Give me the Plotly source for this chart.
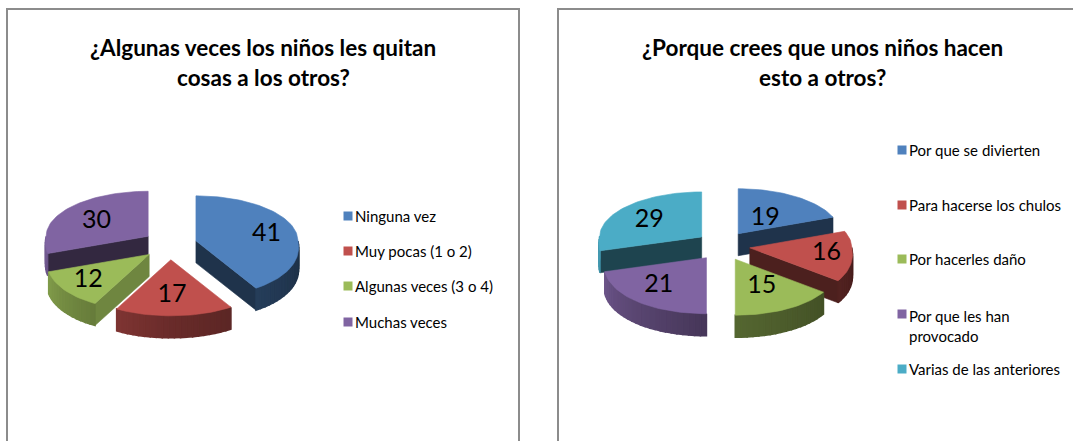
import math
import plotly.graph_objects as go

# ---- data ----
left_title = ["¿Algunas veces los niños les quitan", "cosas a los otros?"]
left_labels = ["Ninguna vez", "Muy pocas (1 o 2)", "Algunas veces (3 o 4)", "Muchas veces"]
left_values = [41, 17, 12, 30]

right_title = ["¿Porque crees que unos niños hacen", "esto a otros?"]
right_labels = ["Por que se divierten", "Para hacerse los chulos", "Por hacerles daño",
                "Por que les han<br>provocado", "Varias de las anteriores"]
right_values = [19, 16, 15, 21, 29]

# ---- style / layout ----
COLORS = ["#4f81bd", "#c0504d", "#9bbb59", "#8064a2", "#4bacc6"]
FONT = "Lato"
RX, RX_FRONT_EXTRA, RY_BACK, RY_FRONT, DEPTH, EXPLODE, EXPLODE_Y = 102, 12, 45, 56, 22, 27, 0.55
LEFT_PIE = dict(cx=170, cy=245,
                nudges=[(2, 3), (-1, -3), (-6, 1), (6, 4)])
RIGHT_PIE = dict(cx=723, cy=246,
                 nudges=[(-13, 11), (6, 1), (-6, -7), (-4, -3), (4, 3)])
LEFT_LEGEND = dict(x=348, ys=[216, 251, 286, 322])
RIGHT_LEGEND = dict(x=902, ys=[150, 205, 259, 314, 369])


def shade(color, k):
    r, g, b = (int(color[i:i + 2], 16) for i in (1, 3, 5))
    return f"rgb({int(r * k)},{int(g * k)},{int(b * k)})"


def wall_shade(theta):
    if theta <= 180:
        return 0.35 + 0.20 * max(theta - 90, 0) / 90
    return 0.55 + 0.35 * min(theta - 180, 90) / 90


def rim(ax, ay, theta):
    t = math.radians(theta)
    c = math.cos(t)
    rx = RX + RX_FRONT_EXTRA * max(0.0, -c)
    return ax + rx * math.sin(t), ay - c * (RY_BACK if c > 0 else RY_FRONT)


def poly(fig, pts, color, width=0.6):
    xs = [p[0] for p in pts] + [pts[0][0]]
    ys = [p[1] for p in pts] + [pts[0][1]]
    fig.add_trace(go.Scatter(x=xs, y=ys, mode="lines", fill="toself", fillcolor=color,
                             line=dict(color=color, width=width), hoverinfo="skip",
                             showlegend=False))


def draw_pie(fig, values, cfg):
    total = sum(values)
    slices, start = [], 0.0
    for i, v in enumerate(values):
        end = start + 360.0 * v / total
        mid = math.radians((start + end) / 2)
        ax = cfg["cx"] + EXPLODE * math.sin(mid)
        ay = cfg["cy"] - EXPLODE * EXPLODE_Y * math.cos(mid)
        slices.append((i, v, start, end, mid, ax, ay))
        start = end
    labels = []
    for i, v, a, b, mid, ax, ay in sorted(slices, key=lambda s: -math.cos(s[4])):
        color = COLORS[i]
        # radial cut faces
        for theta, normal in ((a, a - 90), (b, b + 90)):
            if math.cos(math.radians(normal)) < -1e-6:
                p = rim(ax, ay, theta)
                k = 0.72 if (normal % 360) < 130 else 0.40
                poly(fig, [(ax, ay), p, (p[0], p[1] + DEPTH), (ax, ay + DEPTH)], shade(color, k))
        # outer wall
        n = max(int((b - a) / 3), 1)
        for j in range(n):
            t0, t1 = a + (b - a) * j / n, a + (b - a) * (j + 1) / n
            tm = (t0 + t1) / 2
            if math.cos(math.radians(tm)) < 0:
                p0, p1 = rim(ax, ay, t0), rim(ax, ay, t1)
                poly(fig, [p0, p1, (p1[0], p1[1] + DEPTH), (p0[0], p0[1] + DEPTH)],
                     shade(color, wall_shade(tm)), width=1.5)
        # top face
        m = max(int((b - a) / 2), 2)
        poly(fig, [(ax, ay)] + [rim(ax, ay, a + (b - a) * j / m) for j in range(m + 1)], color)
        dx, dy = cfg["nudges"][i]
        labels.append((ax + 0.7 * RX * math.sin(mid) + dx,
                       ay - 0.7 * math.cos(mid) * (RY_BACK if math.cos(mid) > 0 else RY_FRONT) + dy,
                       str(v)))
    fig.add_trace(go.Scatter(x=[l[0] for l in labels], y=[l[1] for l in labels],
                             text=[l[2] for l in labels], mode="text",
                             textposition="middle center",
                             textfont=dict(family=FONT, size=25, color="#000000"),
                             hoverinfo="skip", showlegend=False))


def draw_legend(fig, labels, cfg):
    fig.add_trace(go.Scatter(x=[cfg["x"]] * len(labels), y=cfg["ys"], mode="markers",
                             marker=dict(symbol="square", size=9,
                                         color=COLORS[:len(labels)]),
                             hoverinfo="skip", showlegend=False))
    for lab, y in zip(labels, cfg["ys"]):
        two = "<br>" in lab
        fig.add_annotation(x=cfg["x"] + 5, y=y - 9 if two else y, xref="x", yref="y",
                           text=lab, showarrow=False, xanchor="left",
                           yanchor="top" if two else "middle", align="left",
                           font=dict(family=FONT, size=15, color="#000000"))


fig = go.Figure()
draw_pie(fig, left_values, LEFT_PIE)
draw_pie(fig, right_values, RIGHT_PIE)
draw_legend(fig, left_labels, LEFT_LEGEND)
draw_legend(fig, right_labels, RIGHT_LEGEND)

for lines, xc in ((left_title, 263), (right_title, 822)):
    for line, y in zip(lines, (47, 77)):
        fig.add_annotation(x=xc, y=y, xref="x", yref="y", text=f"<b>{line}</b>",
                           showarrow=False, font=dict(family=FONT, size=22.5, color="#000000"))

for x0, x1 in ((7, 519), (558, 1100)):
    fig.add_shape(type="rect", xref="x", yref="y", x0=x0, x1=x1, y0=9, y1=470,
                  line=dict(color="#8c8c8c", width=2), layer="below")

fig.update_layout(width=1073, height=441, margin=dict(l=0, r=0, t=0, b=0),
                  paper_bgcolor="#ffffff", plot_bgcolor="#ffffff", showlegend=False,
                  xaxis=dict(range=[0, 1073], visible=False, fixedrange=True),
                  yaxis=dict(range=[441, 0], visible=False, fixedrange=True))
fig.write_html("out.html", config={"displayModeBar": False},
               post_script="document.body.style.margin='0';window.dispatchEvent(new Event('resize'));")
